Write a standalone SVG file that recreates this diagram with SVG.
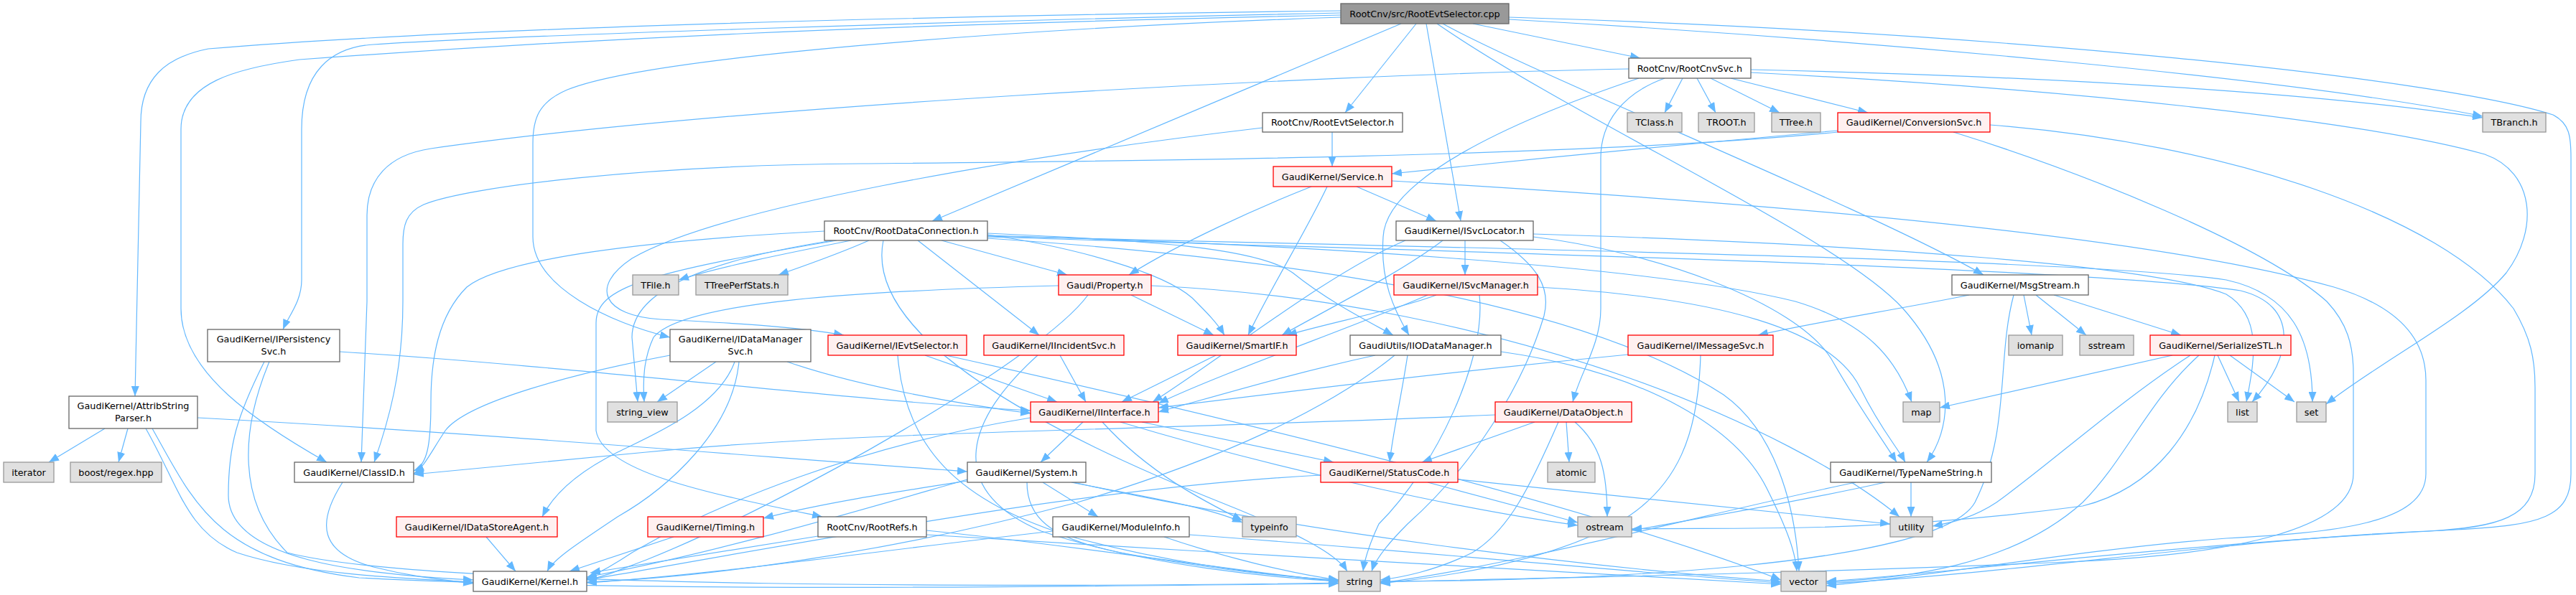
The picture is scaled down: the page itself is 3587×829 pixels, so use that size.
<svg xmlns="http://www.w3.org/2000/svg" width="3587" height="829" viewBox="0 0 3587 829">
<style>
.e{fill:none;stroke:#63b8ff;stroke-width:1.2;marker-end:url(#ah)}
.w rect{fill:#fff;stroke:#666;stroke-width:1.3}
.r rect{fill:#fff0f0;stroke:#f00;stroke-width:1.3}
.g rect{fill:#e0e0e0;stroke:#999;stroke-width:1.3}
.t rect{fill:#999;stroke:#666;stroke-width:1.3}
text{font-family:"DejaVu Sans","Liberation Sans",sans-serif;font-size:12.8px;text-anchor:middle;fill:#000}
</style>
<defs>
<marker id="ah" viewBox="0 0 14 11" refX="14" refY="5.5" markerWidth="14" markerHeight="11" orient="auto" markerUnits="userSpaceOnUse"><path d="M0,0 L14,5.5 L0,11 z" fill="#63b8ff"/></marker>
</defs>
<rect width="3587" height="829" fill="#fff"/>
<g id="edges">
<path class="e" d="M2051,33 L2284,81"/>
<path class="e" d="M1972,33 L1873,157"/>
<path class="e" d="M1986,33 L2034,308"/>
<path class="e" d="M2009,33 C2150,110 2600,290 2762,383"/>
<path class="e" d="M2001,33 C2200,170 2560,330 2650,430 C2730,520 2715,600 2683,644"/>
<path class="e" d="M2101,27 C2600,55 3200,110 3457,162"/>
<path class="e" d="M2101,24 C2800,45 3400,110 3555,160 C3578,172 3580,190 3580,220 L3580,660 C3580,720 3540,732 3420,738 C3000,760 2700,800 2543,810"/>
<path class="e" d="M1951,33 L1298,308"/>
<path class="e" d="M1867,15 C1300,22 650,38 290,68 C230,80 196,110 196,170 L188,552"/>
<path class="e" d="M1867,18 C1300,30 700,50 520,62 C460,66 420,100 420,180 L420,390 C420,420 402,440 394,459"/>
<path class="e" d="M1867,21 C1200,35 800,55 417,83 C330,95 252,115 252,180 L252,430 C252,520 360,590 455,644"/>
<path class="e" d="M1867,24 C1400,40 900,80 790,125 C750,142 742,165 742,200 L742,330 C742,400 850,450 933,470"/>
<path class="e" d="M2343,109 L2318,157"/>
<path class="e" d="M2363,109 L2389,157"/>
<path class="e" d="M2382,109 L2478,157"/>
<path class="e" d="M2410,109 L2601,157"/>
<path class="e" d="M2438,97 C2800,105 3200,125 3457,164"/>
<path class="e" d="M2438,101 C2900,125 3300,170 3460,215 C3530,240 3535,320 3490,380 C3440,440 3320,500 3239,563"/>
<path class="e" d="M2268,96 C1800,105 1000,150 600,207 C540,216 511,250 511,300 L511,420 L503,644"/>
<path class="e" d="M2318,109 C2260,130 2229,170 2229,220 L2229,430 C2229,480 2200,520 2190,560"/>
<path class="e" d="M2282,109 C2100,170 1930,250 1926,330 C1922,390 1940,430 1962,467"/>
<path class="e" d="M1855,184 L1855,232"/>
<path class="e" d="M1758,178 C1400,220 1000,290 880,360 C820,400 840,440 920,445 C1020,450 1110,455 1175,467"/>
<path class="e" d="M2559,182 C2300,205 2100,225 1938,242"/>
<path class="e" d="M2559,184 C2200,220 1500,225 1200,228 C900,230 650,260 590,285 C565,296 561,315 561,340 L561,420 C561,520 540,590 521,644"/>
<path class="e" d="M2771,174 C3100,200 3400,300 3500,430 C3524,470 3530,500 3530,540 L3530,660 C3530,720 3480,735 3380,740 C3100,752 2800,800 2543,813"/>
<path class="e" d="M2720,184 C2900,240 3150,340 3240,420 C3268,450 3277,480 3277,520 L3277,660 C3277,740 3100,772 2900,782 C2500,800 2100,806 1922,811"/>
<path class="e" d="M1826,260 C1750,290 1640,340 1572,383"/>
<path class="e" d="M1848,260 C1820,320 1770,400 1738,467"/>
<path class="e" d="M1889,260 L2000,308"/>
<path class="e" d="M1938,252 C2500,285 3000,330 3250,400 C3350,430 3378,480 3378,530 L3378,660 C3378,730 3250,742 3100,750 C2900,765 2700,802 2543,816"/>
<path class="e" d="M1185,335 C1100,352 1000,372 945,390"/>
<path class="e" d="M1210,335 C1165,355 1115,372 1084,383"/>
<path class="e" d="M1311,335 L1486,383"/>
<path class="e" d="M1278,335 L1447,467"/>
<path class="e" d="M1375,327 C1500,345 1620,380 1660,415 C1680,435 1695,450 1705,467"/>
<path class="e" d="M1375,325 C1600,335 1750,345 1800,380 C1850,420 1900,445 1940,467"/>
<path class="e" d="M1148,322 C900,335 700,360 650,400 C610,440 600,500 600,560 C600,620 595,648 576,656"/>
<path class="e" d="M1160,335 C1000,360 880,400 880,470 L888,560"/>
<path class="e" d="M1165,335 C900,380 830,400 830,450 L830,600 C840,660 1000,690 1145,720"/>
<path class="e" d="M1375,328 C1800,340 2300,370 2500,420 C2600,450 2640,500 2662,560"/>
<path class="e" d="M1375,329 C2000,345 2900,360 3100,390 C3190,410 3220,470 3220,560"/>
<path class="e" d="M1375,330 C2000,350 2900,372 3120,405 C3200,425 3195,495 3136,560"/>
<path class="e" d="M1375,332 C1800,360 2200,420 2400,550 C2470,600 2500,700 2505,796"/>
<path class="e" d="M1230,335 C1200,480 1500,620 1700,700 C1800,740 1860,770 1876,796"/>
<path class="e" d="M2040,335 L2040,383"/>
<path class="e" d="M1957,335 C1850,380 1700,500 1605,560"/>
<path class="e" d="M2009,335 C1950,380 1850,430 1785,467"/>
<path class="e" d="M2135,330 C2300,350 2500,420 2550,500 C2590,570 2620,610 2641,644"/>
<path class="e" d="M2135,326 C2600,340 3000,370 3100,410 C3150,440 3140,500 3128,560"/>
<path class="e" d="M2089,335 C2140,370 2160,400 2150,440 C2120,540 2050,650 1960,730 C1930,760 1915,780 1910,796"/>
<path class="e" d="M1988,411 C1900,450 1700,520 1613,562"/>
<path class="e" d="M2000,411 C1950,430 1850,450 1792,467"/>
<path class="e" d="M2141,400 C2400,415 2550,460 2590,540 C2620,600 2640,620 2653,644"/>
<path class="e" d="M2060,411 C2070,500 2000,650 1920,730 C1906,760 1900,780 1898,796"/>
<path class="e" d="M2742,411 C2650,430 2520,450 2448,467"/>
<path class="e" d="M2860,411 L3037,467"/>
<path class="e" d="M2818,411 L2829,467"/>
<path class="e" d="M2835,411 L2905,467"/>
<path class="e" d="M2804,411 C2780,500 2800,600 2750,700 C2700,790 2200,810 1922,810"/>
<path class="e" d="M2267,494 C2000,520 1800,545 1613,568"/>
<path class="e" d="M2368,495 C2365,600 2340,680 2250,730 C2150,785 2000,805 1922,813"/>
<path class="e" d="M3088,495 L3118,560"/>
<path class="e" d="M3105,495 L3195,560"/>
<path class="e" d="M3025,495 L2701,568"/>
<path class="e" d="M3050,495 C2950,560 2850,650 2780,700 C2750,720 2720,728 2691,733"/>
<path class="e" d="M3062,495 C2990,560 2960,640 2900,700 C2800,790 2650,806 2543,811"/>
<path class="e" d="M3084,495 C3060,600 3000,680 2900,705 C2600,745 2400,734 2272,737"/>
<path class="e" d="M1575,411 L1690,467"/>
<path class="e" d="M1474,398 C1200,405 950,420 910,470 C896,500 895,530 897,560"/>
<path class="e" d="M1515,411 C1450,500 1100,700 900,780 C860,795 840,804 817,808"/>
<path class="e" d="M1603,398 C2100,420 2500,600 2645,720"/>
<path class="e" d="M473,490 C800,510 1200,560 1435,572"/>
<path class="e" d="M368,504 C330,580 318,620 318,690 C318,780 500,800 659,808"/>
<path class="e" d="M375,504 C335,600 330,700 400,770 C600,822 1500,818 1864,812"/>
<path class="e" d="M146,597 L68,644"/>
<path class="e" d="M178,597 L165,644"/>
<path class="e" d="M275,582 C700,605 1100,640 1347,657"/>
<path class="e" d="M203,597 C250,680 260,740 330,770 C420,800 560,806 659,811"/>
<path class="e" d="M212,597 C270,700 300,780 500,805 C900,826 1500,817 1864,813"/>
<path class="e" d="M477,672 C440,730 445,770 520,790 C580,805 620,808 659,813"/>
<path class="e" d="M997,504 L915,560"/>
<path class="e" d="M1023,504 C1000,570 900,610 860,630 C800,660 770,690 755,720"/>
<path class="e" d="M1029,504 C1020,600 930,680 860,720 C800,760 770,780 762,796"/>
<path class="e" d="M1096,504 C1200,540 1350,565 1435,576"/>
<path class="e" d="M933,495 C800,520 650,560 620,600 C600,630 590,652 576,660"/>
<path class="e" d="M1288,495 L1472,560"/>
<path class="e" d="M1250,495 C1260,620 1330,700 1500,750 C1650,790 1800,805 1864,808"/>
<path class="e" d="M1317,495 C1700,580 2200,700 2480,808"/>
<path class="e" d="M1476,495 L1512,560"/>
<path class="e" d="M1445,495 C1350,580 1310,680 1450,740 C1600,790 1780,805 1864,810"/>
<path class="e" d="M1693,495 L1562,560"/>
<path class="e" d="M1915,495 C1800,520 1700,550 1613,574"/>
<path class="e" d="M1942,495 C1850,570 1700,640 1500,700 C1200,780 950,806 817,811"/>
<path class="e" d="M1960,495 C1950,560 1940,600 1935,644"/>
<path class="e" d="M2090,490 C2300,520 2420,600 2460,680 C2490,740 2500,770 2502,796"/>
<path class="e" d="M1508,588 L1449,644"/>
<path class="e" d="M1535,588 C1600,660 1680,700 1730,725"/>
<path class="e" d="M1560,588 C1800,660 2050,712 2197,732"/>
<path class="e" d="M1590,588 L1857,644"/>
<path class="e" d="M1435,582 C1200,620 1000,700 880,770 C850,790 830,800 817,806"/>
<path class="e" d="M1452,672 L1529,720"/>
<path class="e" d="M1347,670 C1250,685 1150,700 1063,722"/>
<path class="e" d="M1347,668 C1200,710 1000,770 817,804"/>
<path class="e" d="M1492,672 C1580,690 1680,705 1730,728"/>
<path class="e" d="M1430,672 C1430,720 1460,750 1560,770 C1700,795 1800,805 1864,808"/>
<path class="e" d="M1495,672 C1800,740 2200,790 2480,810"/>
<path class="e" d="M1466,740 C1200,770 1000,800 817,812"/>
<path class="e" d="M1621,748 C1700,775 1800,800 1864,808"/>
<path class="e" d="M1656,745 C2000,770 2300,800 2480,812"/>
<path class="e" d="M677,748 L718,796"/>
<path class="e" d="M938,748 L793,796"/>
<path class="e" d="M1139,747 L822,798"/>
<path class="e" d="M1290,739 C1500,760 1750,800 1864,810"/>
<path class="e" d="M1290,745 C1700,770 2200,800 2480,814"/>
<path class="e" d="M2137,588 L1980,644"/>
<path class="e" d="M2181,588 L2185,644"/>
<path class="e" d="M2193,588 C2230,620 2238,660 2238,720"/>
<path class="e" d="M2170,588 C2130,680 2100,740 2050,770 C2000,795 1950,805 1922,808"/>
<path class="e" d="M2082,578 C1600,600 1200,600 900,630 C700,650 620,656 576,661"/>
<path class="e" d="M1988,672 L2197,728"/>
<path class="e" d="M2030,668 C2250,690 2450,710 2632,730"/>
<path class="e" d="M1839,662 C1500,680 1100,760 817,808"/>
<path class="e" d="M2661,672 L2661,720"/>
<path class="e" d="M2625,672 C2500,700 2350,725 2272,739"/>
<path class="e" d="M2584,672 C2400,710 2100,790 1922,812"/>
</g>
<g id="n0" class="t"><rect x="1867" y="5" width="234" height="28"/><text x="1984" y="24">RootCnv/src/RootEvtSelector.cpp</text></g>
<g id="n1" class="w"><rect x="2268" y="81" width="170" height="28"/><text x="2353" y="100">RootCnv/RootCnvSvc.h</text></g>
<g id="n2" class="w"><rect x="1758" y="157" width="195" height="27"/><text x="1855.5" y="175">RootCnv/RootEvtSelector.h</text></g>
<g id="n14" class="g"><rect x="2266" y="157" width="76" height="27"/><text x="2304" y="175">TClass.h</text></g>
<g id="n15" class="g"><rect x="2365" y="157" width="78" height="27"/><text x="2404" y="175">TROOT.h</text></g>
<g id="n16" class="g"><rect x="2467" y="157" width="68" height="27"/><text x="2501" y="175">TTree.h</text></g>
<g id="n17" class="r"><rect x="2559" y="157" width="212" height="27"/><text x="2665" y="175">GaudiKernel/ConversionSvc.h</text></g>
<g id="n11" class="g"><rect x="3457" y="157" width="88" height="27"/><text x="3501" y="175">TBranch.h</text></g>
<g id="n18" class="r"><rect x="1773" y="232" width="165" height="28"/><text x="1855.5" y="251">GaudiKernel/Service.h</text></g>
<g id="n3" class="w"><rect x="1148" y="308" width="227" height="27"/><text x="1261.5" y="326">RootCnv/RootDataConnection.h</text></g>
<g id="n8" class="w"><rect x="1944" y="308" width="191" height="27"/><text x="2039.5" y="326">GaudiKernel/ISvcLocator.h</text></g>
<g id="n21" class="g"><rect x="881" y="383" width="64" height="28"/><text x="913" y="402">TFile.h</text></g>
<g id="n22" class="g"><rect x="969" y="383" width="128" height="28"/><text x="1033" y="402">TTreePerfStats.h</text></g>
<g id="n19" class="r"><rect x="1474" y="383" width="129" height="28"/><text x="1538.5" y="402">Gaudi/Property.h</text></g>
<g id="n20" class="r"><rect x="1941" y="383" width="200" height="28"/><text x="2041" y="402">GaudiKernel/ISvcManager.h</text></g>
<g id="n9" class="w"><rect x="2718" y="383" width="190" height="28"/><text x="2813" y="402">GaudiKernel/MsgStream.h</text></g>
<g id="n5" class="w"><rect x="289" y="459" width="184" height="45"/><text x="381" y="477">GaudiKernel/IPersistency</text><text x="381" y="494">Svc.h</text></g>
<g id="n7" class="w"><rect x="933" y="459" width="196" height="45"/><text x="1031" y="477">GaudiKernel/IDataManager</text><text x="1031" y="494">Svc.h</text></g>
<g id="n23" class="r"><rect x="1153" y="467" width="193" height="28"/><text x="1249.5" y="486">GaudiKernel/IEvtSelector.h</text></g>
<g id="n24" class="r"><rect x="1370" y="467" width="195" height="28"/><text x="1467.5" y="486">GaudiKernel/IIncidentSvc.h</text></g>
<g id="n25" class="r"><rect x="1640" y="467" width="165" height="28"/><text x="1722.5" y="486">GaudiKernel/SmartIF.h</text></g>
<g id="n26" class="w"><rect x="1880" y="467" width="210" height="28"/><text x="1985" y="486">GaudiUtils/IIODataManager.h</text></g>
<g id="n27" class="r"><rect x="2267" y="467" width="202" height="28"/><text x="2368" y="486">GaudiKernel/IMessageSvc.h</text></g>
<g id="n29" class="g"><rect x="2797" y="467" width="75" height="28"/><text x="2834.5" y="486">iomanip</text></g>
<g id="n30" class="g"><rect x="2896" y="467" width="75" height="28"/><text x="2933.5" y="486">sstream</text></g>
<g id="n28" class="r"><rect x="2994" y="467" width="196" height="28"/><text x="3092" y="486">GaudiKernel/SerializeSTL.h</text></g>
<g id="n4" class="w"><rect x="96" y="552" width="179" height="45"/><text x="185.5" y="570">GaudiKernel/AttribString</text><text x="185.5" y="587">Parser.h</text></g>
<g id="n31" class="g"><rect x="846" y="560" width="97" height="28"/><text x="894.5" y="579">string_view</text></g>
<g id="n32" class="r"><rect x="1435" y="560" width="178" height="28"/><text x="1524" y="579">GaudiKernel/IInterface.h</text></g>
<g id="n33" class="r"><rect x="2082" y="560" width="190" height="28"/><text x="2177" y="579">GaudiKernel/DataObject.h</text></g>
<g id="n34" class="g"><rect x="2650" y="560" width="51" height="28"/><text x="2675.5" y="579">map</text></g>
<g id="n35" class="g"><rect x="3102" y="560" width="41" height="28"/><text x="3122.5" y="579">list</text></g>
<g id="n13" class="g"><rect x="3198" y="560" width="41" height="28"/><text x="3218.5" y="579">set</text></g>
<g id="n46" class="g"><rect x="5" y="644" width="70" height="28"/><text x="40" y="663">iterator</text></g>
<g id="n47" class="g"><rect x="98" y="644" width="127" height="28"/><text x="161.5" y="663">boost/regex.hpp</text></g>
<g id="n6" class="w"><rect x="410" y="644" width="166" height="28"/><text x="493" y="663">GaudiKernel/ClassID.h</text></g>
<g id="n36" class="w"><rect x="1347" y="644" width="165" height="28"/><text x="1429.5" y="663">GaudiKernel/System.h</text></g>
<g id="n37" class="r"><rect x="1839" y="644" width="191" height="28"/><text x="1934.5" y="663">GaudiKernel/StatusCode.h</text></g>
<g id="n38" class="g"><rect x="2155" y="644" width="66" height="28"/><text x="2188" y="663">atomic</text></g>
<g id="n10" class="w"><rect x="2549" y="644" width="224" height="28"/><text x="2661" y="663">GaudiKernel/TypeNameString.h</text></g>
<g id="n39" class="r"><rect x="552" y="720" width="224" height="28"/><text x="664" y="739">GaudiKernel/IDataStoreAgent.h</text></g>
<g id="n40" class="r"><rect x="902" y="720" width="161" height="28"/><text x="982.5" y="739">GaudiKernel/Timing.h</text></g>
<g id="n41" class="w"><rect x="1139" y="720" width="151" height="28"/><text x="1214.5" y="739">RootCnv/RootRefs.h</text></g>
<g id="n42" class="w"><rect x="1466" y="720" width="190" height="28"/><text x="1561" y="739">GaudiKernel/ModuleInfo.h</text></g>
<g id="n43" class="g"><rect x="1730" y="720" width="75" height="28"/><text x="1767.5" y="739">typeinfo</text></g>
<g id="n44" class="g"><rect x="2197" y="720" width="75" height="28"/><text x="2234.5" y="739">ostream</text></g>
<g id="n45" class="g"><rect x="2632" y="720" width="59" height="28"/><text x="2661.5" y="739">utility</text></g>
<g id="n48" class="w"><rect x="659" y="796" width="158" height="28"/><text x="738" y="815">GaudiKernel/Kernel.h</text></g>
<g id="n49" class="g"><rect x="1864" y="796" width="58" height="28"/><text x="1893" y="815">string</text></g>
<g id="n12" class="g"><rect x="2480" y="796" width="63" height="28"/><text x="2511.5" y="815">vector</text></g>
</svg>
